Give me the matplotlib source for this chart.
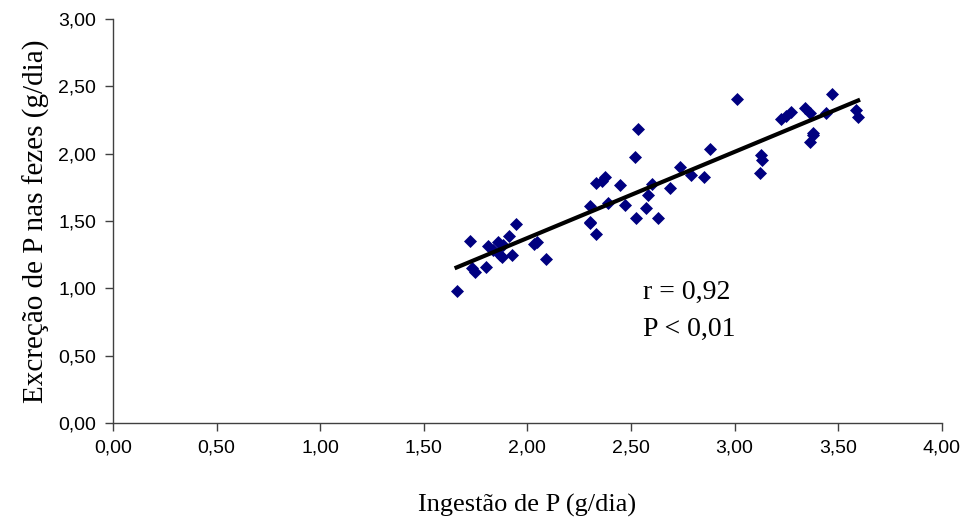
import numpy as np
import matplotlib
matplotlib.use('Agg')
import matplotlib.pyplot as plt
from matplotlib.ticker import FuncFormatter, MultipleLocator

# ingestao de P (g/dia) vs excrecao de P nas fezes (g/dia)
ingestao = [1.658, 1.725, 1.733, 1.746, 1.80, 1.81, 1.835, 1.859, 1.867, 1.875,
            1.883, 1.912, 1.928, 1.947, 2.03, 2.045, 2.092, 2.301, 2.301, 2.304,
            2.333, 2.333, 2.36, 2.373, 2.389, 2.446, 2.47, 2.518, 2.526, 2.534,
            2.574, 2.582, 2.599, 2.63, 2.687, 2.735, 2.791, 2.852, 2.88, 3.009,
            3.12, 3.129, 3.133, 3.225, 3.25, 3.274, 3.338, 3.362, 3.362, 3.378,
            3.38, 3.443, 3.472, 3.584, 3.596]
excrecao = [0.982, 1.351, 1.148, 1.123, 1.16, 1.314, 1.284, 1.346, 1.247, 1.235,
            1.32, 1.388, 1.25, 1.48, 1.33, 1.346, 1.217, 1.613, 1.489, 1.487,
            1.779, 1.403, 1.80, 1.83, 1.636, 1.767, 1.618, 1.977, 1.52, 2.183,
            1.594, 1.693, 1.774, 1.52, 1.742, 1.903, 1.841, 1.829, 2.034, 2.405,
            1.858, 1.99, 1.953, 2.255, 2.28, 2.306, 2.336, 2.30, 2.09, 2.15,
            2.14, 2.30, 2.44, 2.324, 2.27]

x = np.array(ingestao)
y = np.array(excrecao)

fig = plt.figure(figsize=(9.68, 5.22), dpi=100)
ax = fig.add_axes([0.1167, 0.1897, 0.8563, 0.7739])

ax.scatter(x, y, marker='D', s=44, color='#000080', linewidths=0, zorder=3)

# linha de tendencia
a, b = np.polyfit(x, y, 1)
xl = np.array([x.min(), x.max()])
ax.plot(xl, a * xl + b, color='black', linewidth=3, zorder=4)

ax.set_xlim(0, 4)
ax.set_ylim(0, 3)
ax.xaxis.set_major_locator(MultipleLocator(0.5))
ax.yaxis.set_major_locator(MultipleLocator(0.5))
fmt = FuncFormatter(lambda v, p: ('%.2f' % v).replace('.', ','))
ax.xaxis.set_major_formatter(fmt)
ax.yaxis.set_major_formatter(fmt)

for s in ['top', 'right']:
    ax.spines[s].set_visible(False)
for s in ['left', 'bottom']:
    ax.spines[s].set_color('#404040')
    ax.spines[s].set_linewidth(1)
ax.tick_params(direction='out', length=6, width=1, color='#404040',
               labelsize=14, pad=6)
for lab in ax.get_xticklabels() + ax.get_yticklabels():
    lab.set_fontfamily('Liberation Sans')

ax.set_xlabel('Ingestão de P (g/dia)', family='Liberation Serif', fontsize=19, labelpad=27)
ax.set_ylabel('Excreção de P nas fezes (g/dia)', family='Liberation Serif', fontsize=21, labelpad=6)

ax.text(2.56, 0.92, 'r = 0,92', family='Liberation Serif', fontsize=20, va='baseline')
ax.text(2.56, 0.65, 'P < 0,01', family='Liberation Serif', fontsize=20, va='baseline')

fig.savefig('out.png', dpi=100)
